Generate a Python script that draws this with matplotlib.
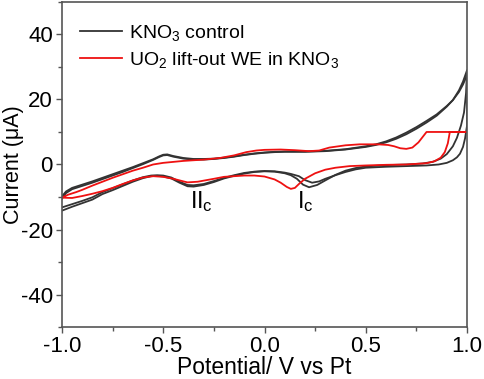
import matplotlib
matplotlib.use("Agg")
import matplotlib.pyplot as plt
import matplotlib.ticker as ticker

plt.rcParams.update({
    "font.family":        ["Liberation Sans", "DejaVu Sans"],
    "mathtext.default":   "regular",
    "axes.unicode_minus": False,
})

# ── data ──────────────────────────────────────────────────────────────────────
# control, cycle 1: anodic sweep then cathodic sweep
ctrl1_v = [-1.00, -0.98, -0.95, -0.90, -0.85, -0.80, -0.75, -0.70, -0.65, -0.60,
           -0.55, -0.52, -0.50, -0.48, -0.45, -0.40, -0.35, -0.30, -0.25, -0.20,
           -0.15, -0.10, -0.05, 0.00, 0.05, 0.10, 0.20, 0.30, 0.40, 0.50,
           0.55, 0.60, 0.65, 0.70, 0.75, 0.80, 0.85, 0.90, 0.93, 0.96,
           0.98, 1.00,
           0.995, 0.985, 0.97, 0.95, 0.93, 0.90, 0.87, 0.83, 0.78, 0.70,
           0.60, 0.50, 0.45, 0.40, 0.35, 0.30, 0.26, 0.22, 0.19, 0.16,
           0.13, 0.10, 0.05, 0.00, -0.05, -0.10, -0.15, -0.20, -0.25, -0.30,
           -0.35, -0.38, -0.42, -0.46, -0.50, -0.53, -0.56, -0.60, -0.65, -0.70,
           -0.75, -0.80, -0.85, -0.90, -0.95, -1.00]
ctrl1_i = [-10.5, -8.8, -7.6, -6.6, -5.6, -4.5, -3.4, -2.3, -1.1, 0.1,
           1.4, 2.3, 2.8, 2.9, 2.4, 1.8, 1.5, 1.5, 1.7, 2.0,
           2.4, 2.9, 3.3, 3.6, 3.8, 3.9, 3.9, 4.1, 4.6, 5.4,
           6.0, 6.8, 7.9, 9.3, 11.0, 12.9, 15.0, 17.8, 19.8, 22.8,
           25.5, 29.0,
           22.0, 16.0, 12.0, 8.2, 5.6, 3.2, 1.8, 0.8, 0.3, 0.0,
           -0.2, -0.6, -1.1, -1.9, -3.2, -4.9, -6.3, -7.0, -6.2, -4.4,
           -3.3, -2.7, -2.2, -2.1, -2.3, -2.8, -3.5, -4.3, -5.4, -6.3,
           -6.8, -6.7, -5.6, -4.3, -3.7, -3.5, -3.6, -4.2, -5.3, -6.6,
           -7.9, -9.1, -10.8, -11.9, -13.0, -14.2]

# control, cycle 2
ctrl2_v = [-1.00, -0.98, -0.95, -0.90, -0.85, -0.80, -0.75, -0.70, -0.65, -0.60,
           -0.55, -0.52, -0.50, -0.48, -0.45, -0.40, -0.35, -0.30, -0.25, -0.20,
           -0.15, -0.10, -0.05, 0.00, 0.05, 0.10, 0.20, 0.30, 0.40, 0.50,
           0.55, 0.60, 0.65, 0.70, 0.75, 0.80, 0.85, 0.90, 0.93, 0.96,
           0.98, 1.00,
           1.00, 0.99, 0.98, 0.965, 0.95, 0.93, 0.90, 0.86, 0.80, 0.70,
           0.60, 0.50, 0.45, 0.40, 0.35, 0.30, 0.27, 0.235, 0.20, 0.17,
           0.13, 0.10, 0.05, 0.00, -0.05, -0.10, -0.15, -0.20, -0.25, -0.30,
           -0.35, -0.38, -0.42, -0.46, -0.50, -0.53, -0.56, -0.60, -0.65, -0.70,
           -0.75, -0.80, -0.85, -0.90, -0.95, -1.00]
ctrl2_i = [-9.8, -8.3, -7.2, -6.2, -5.2, -4.1, -3.0, -1.9, -0.8, 0.4,
           1.6, 2.5, 3.0, 3.1, 2.6, 2.0, 1.7, 1.7, 1.8, 2.1,
           2.5, 3.0, 3.4, 3.7, 3.9, 4.0, 4.0, 4.2, 4.7, 5.6,
           6.2, 7.1, 8.3, 9.8, 11.5, 13.4, 15.4, 18.0, 19.8, 22.3,
           24.6, 27.5,
           12.0, 8.0, 5.4, 3.3, 2.2, 1.3, 0.5, 0.0, -0.3, -0.5,
           -0.7, -1.0, -1.5, -2.3, -3.3, -4.4, -5.2, -5.6, -4.8, -3.6,
           -2.9, -2.5, -2.1, -2.0, -2.2, -2.6, -3.3, -4.1, -5.1, -6.0,
           -6.4, -6.3, -5.3, -4.0, -3.4, -3.3, -3.4, -3.9, -4.9, -6.1,
           -7.3, -8.5, -10.1, -11.2, -12.2, -13.2]

# UO2 lift-out WE in KNO3
uo2_v = [-1.00, -0.97, -0.93, -0.90, -0.85, -0.80, -0.75, -0.70, -0.65, -0.60,
         -0.55, -0.50, -0.45, -0.40, -0.35, -0.30, -0.22, -0.15, -0.09, -0.04,
         0.00, 0.08, 0.15, 0.22, 0.27, 0.32, 0.40, 0.47, 0.56, 0.61,
         0.64, 0.67, 0.70, 0.73, 0.76, 0.78, 0.80, 1.00,
         0.915, 0.905, 0.89, 0.87, 0.84, 0.80, 0.70, 0.60, 0.50, 0.42,
         0.35, 0.30, 0.25, 0.20, 0.17, 0.15, 0.13, 0.11, 0.08, 0.05,
         0.00, -0.05, -0.10, -0.20, -0.25, -0.33, -0.38, -0.40, -0.45, -0.50,
         -0.55, -0.60, -0.65, -0.70, -0.75, -0.80, -0.85, -0.90, -0.95, -1.00]
uo2_i = [-10.2, -9.3, -8.5, -7.8, -6.5, -5.3, -4.1, -3.0, -1.9, -1.0,
         0.0, 0.5, 0.8, 1.1, 1.3, 1.5, 2.0, 2.8, 3.8, 4.3,
         4.5, 4.6, 4.4, 4.1, 4.3, 5.2, 5.9, 6.2, 6.2, 6.0,
         5.6, 5.0, 4.8, 5.2, 6.8, 8.4, 10.0, 10.0,
         10.0, 6.5, 3.8, 2.1, 1.0, 0.4, 0.0, -0.1, -0.3, -0.5,
         -1.0, -1.6, -2.7, -4.4, -6.0, -7.2, -7.5, -6.9, -5.6, -4.6,
         -3.7, -3.4, -3.4, -3.8, -4.4, -5.3, -5.5, -5.2, -4.4, -3.8,
         -3.6, -4.0, -4.9, -6.0, -7.2, -8.2, -9.0, -9.7, -10.3, -10.2]

LABELS = ["KNO$_3$ control", "UO$_2$ lift-out WE in KNO$_3$"]
PEAKS = ["II$_c$", "I$_c$"]
PEAK_V = [-0.31, 0.20]
PEAK_I = [-13.4, -13.4]

BLACK = "#333333"
RED = "#ee1111"
SPINE = "#555555"

# ── figure ────────────────────────────────────────────────────────────────────
fig = plt.figure(figsize=(4.84, 3.79), dpi=100)
ax = fig.add_axes([0.128, 0.137, 0.837, 0.858])

ax.plot(ctrl1_v, ctrl1_i, color=BLACK, linewidth=1.3, label=LABELS[0])
ax.plot(ctrl2_v, ctrl2_i, color=BLACK, linewidth=1.3)
ax.plot(uo2_v, uo2_i, color=RED, linewidth=1.3, label=LABELS[1])

for txt, v, i in zip(PEAKS, PEAK_V, PEAK_I):
    ax.text(v, i, txt, fontsize=17, ha="center", va="baseline")

ax.set_xlim(-1.0, 1.0)
ax.set_ylim(-50, 50)
ax.xaxis.set_major_locator(ticker.MultipleLocator(0.5))
ax.xaxis.set_minor_locator(ticker.MultipleLocator(0.25))
ax.yaxis.set_major_locator(ticker.MultipleLocator(20))
ax.yaxis.set_minor_locator(ticker.MultipleLocator(10))
ax.xaxis.set_major_formatter(ticker.FormatStrFormatter("%.1f"))
ax.tick_params(which="both", direction="out", width=1.0, color=SPINE,
               labelsize=16, top=False, right=False)
ax.tick_params(which="major", length=4.5, pad=2)
ax.tick_params(which="minor", length=3)
for s in ax.spines.values():
    s.set_color(SPINE)
    s.set_linewidth(1.2)

ax.set_xlabel("Potential/ V vs Pt", fontsize=16.5, va="bottom")
ax.xaxis.set_label_coords(0.5, -0.159)
ax.set_ylabel("Current (\u03bcA)", fontsize=15.5)
ax.yaxis.set_label_coords(-0.093, 0.5)

ax.legend(loc="upper left", bbox_to_anchor=(0.044, 0.935), frameon=False,
          fontsize=14, handlelength=2.15, handletextpad=0.4,
          labelspacing=0.35, borderaxespad=0.0, borderpad=0.0)

fig.savefig("out.png", dpi=100)
